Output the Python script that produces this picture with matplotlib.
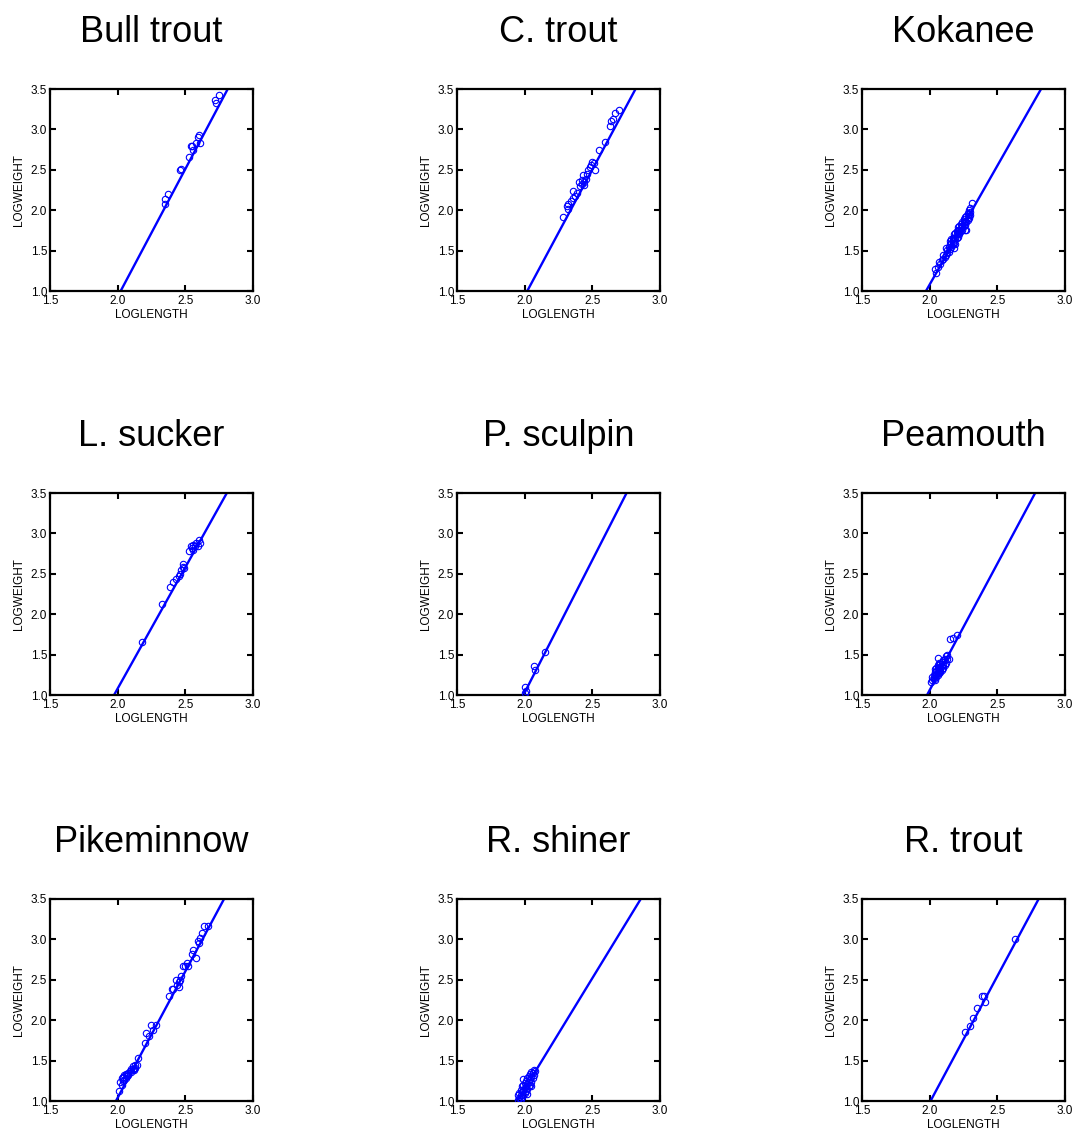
import numpy as np
import matplotlib
matplotlib.use('Agg')
import matplotlib.pyplot as plt

plt.rcParams['font.family'] = ['Liberation Sans', 'DejaVu Sans']

# species (panel titles), in reading order
species = ['Bull trout', 'C. trout', 'Kokanee',
           'L. sucker', 'P. sculpin', 'Peamouth',
           'Pikeminnow', 'R. shiner', 'R. trout']

# fitted line LOGWEIGHT = a + b * LOGLENGTH
intercepts = [-5.39, -5.31, -4.80, -4.92, -5.53, -5.20, -5.22, -4.33, -5.28]
slopes = [3.16, 3.125, 2.94, 3.00, 3.28, 3.13, 3.13, 2.74, 3.13]

# observed points (loglength, logweight)
bull_x = [2.35, 2.35, 2.37, 2.46, 2.47, 2.53, 2.54, 2.55, 2.56, 2.58, 2.59, 2.60, 2.61, 2.72, 2.73, 2.75]
bull_y = [2.08, 2.14, 2.20, 2.50, 2.51, 2.66, 2.79, 2.80, 2.74, 2.83, 2.91, 2.93, 2.83, 3.36, 3.33, 3.43]

ctrout_x = [2.28, 2.31, 2.32, 2.32, 2.34, 2.36, 2.36, 2.37, 2.39, 2.40, 2.41, 2.42, 2.43, 2.44, 2.45,
            2.46, 2.47, 2.48, 2.49, 2.50, 2.51, 2.52, 2.55, 2.59, 2.63, 2.64, 2.65, 2.67, 2.70, 2.44, 2.42]
ctrout_y = [1.91, 2.05, 2.02, 2.08, 2.11, 2.24, 2.15, 2.17, 2.21, 2.35, 2.30, 2.37, 2.44, 2.35, 2.39,
            2.45, 2.50, 2.53, 2.56, 2.60, 2.58, 2.50, 2.74, 2.84, 3.04, 3.10, 3.13, 3.20, 3.24, 2.31, 2.33]

kok_x = [2.04, 2.05, 2.06, 2.07, 2.08, 2.09, 2.10, 2.10, 2.11, 2.12, 2.12, 2.13, 2.13, 2.14, 2.14,
         2.15, 2.15, 2.15, 2.16, 2.16, 2.16, 2.17, 2.17, 2.17, 2.18, 2.18, 2.18, 2.19, 2.19, 2.19,
         2.20, 2.20, 2.20, 2.21, 2.21, 2.21, 2.21, 2.22, 2.22, 2.22, 2.23, 2.23, 2.23, 2.24, 2.24,
         2.24, 2.25, 2.25, 2.25, 2.26, 2.26, 2.26, 2.27, 2.27, 2.27, 2.28, 2.28, 2.28, 2.29, 2.29,
         2.29, 2.30, 2.30, 2.30, 2.31, 2.18, 2.22, 2.26]
kok_y = [1.27, 1.22, 1.30, 1.36, 1.33, 1.38, 1.40, 1.44, 1.42, 1.45, 1.53, 1.47, 1.51, 1.48, 1.54,
         1.52, 1.58, 1.62, 1.55, 1.60, 1.64, 1.58, 1.62, 1.66, 1.60, 1.65, 1.70, 1.58, 1.66, 1.72,
         1.65, 1.70, 1.74, 1.67, 1.72, 1.76, 1.79, 1.70, 1.75, 1.80, 1.74, 1.78, 1.83, 1.76, 1.81,
         1.86, 1.80, 1.84, 1.89, 1.82, 1.87, 1.91, 1.75, 1.85, 1.93, 1.88, 1.92, 1.96, 1.90, 1.95,
         2.00, 1.94, 1.98, 2.03, 2.09, 1.53, 1.73, 1.75]

lsuck_x = [2.18, 2.33, 2.39, 2.41, 2.43, 2.45, 2.46, 2.47, 2.48, 2.48, 2.49, 2.53, 2.54, 2.55,
           2.56, 2.57, 2.58, 2.59, 2.60, 2.61, 2.56]
lsuck_y = [1.66, 2.13, 2.34, 2.40, 2.44, 2.47, 2.50, 2.55, 2.62, 2.59, 2.57, 2.78, 2.84, 2.82,
           2.86, 2.84, 2.88, 2.85, 2.92, 2.88, 2.80]

psculp_x = [2.00, 2.01, 2.00, 2.07, 2.08, 2.15]
psculp_y = [1.10, 1.05, 1.03, 1.36, 1.31, 1.53]

pea_x = [2.01, 2.02, 2.02, 2.03, 2.03, 2.04, 2.04, 2.04, 2.05, 2.05, 2.05, 2.05, 2.06, 2.06, 2.06,
         2.06, 2.07, 2.07, 2.07, 2.07, 2.08, 2.08, 2.08, 2.09, 2.09, 2.09, 2.10, 2.10, 2.10, 2.11,
         2.11, 2.12, 2.12, 2.13, 2.13, 2.14, 2.06, 2.15, 2.17, 2.20, 2.08, 2.04]
pea_y = [1.16, 1.18, 1.22, 1.20, 1.25, 1.19, 1.24, 1.28, 1.22, 1.26, 1.30, 1.34, 1.25, 1.29, 1.33,
         1.37, 1.27, 1.31, 1.35, 1.39, 1.28, 1.33, 1.38, 1.31, 1.36, 1.41, 1.34, 1.38, 1.43, 1.37,
         1.44, 1.40, 1.48, 1.45, 1.50, 1.44, 1.46, 1.69, 1.70, 1.74, 1.30, 1.32]

pike_x = [2.01, 2.02, 2.03, 2.04, 2.04, 2.05, 2.05, 2.06, 2.06, 2.07, 2.08, 2.08, 2.09, 2.10, 2.10,
          2.11, 2.11, 2.12, 2.13, 2.13, 2.14, 2.15, 2.20, 2.21, 2.23, 2.25, 2.26, 2.28, 2.38, 2.40,
          2.41, 2.43, 2.44, 2.45, 2.46, 2.47, 2.48, 2.50, 2.51, 2.52, 2.55, 2.56, 2.58, 2.59, 2.61,
          2.62, 2.64, 2.67, 2.03, 2.07, 2.12, 2.45, 2.60]
pike_y = [1.12, 1.24, 1.20, 1.30, 1.25, 1.26, 1.32, 1.33, 1.29, 1.31, 1.35, 1.32, 1.37, 1.39, 1.36,
          1.43, 1.40, 1.38, 1.41, 1.44, 1.44, 1.53, 1.72, 1.84, 1.80, 1.94, 1.88, 1.94, 2.30, 2.39,
          2.38, 2.50, 2.44, 2.47, 2.50, 2.55, 2.67, 2.67, 2.71, 2.67, 2.82, 2.87, 2.77, 2.98, 3.02,
          3.08, 3.17, 3.17, 1.28, 1.34, 1.40, 2.41, 2.95]

shiner_x = [1.95, 1.95, 1.96, 1.96, 1.97, 1.97, 1.97, 1.98, 1.98, 1.98, 1.99, 1.99, 1.99, 2.00, 2.00,
            2.00, 2.01, 2.01, 2.01, 2.02, 2.02, 2.02, 2.03, 2.03, 2.03, 2.04, 2.04, 2.04, 2.05, 2.05,
            2.05, 2.06, 2.06, 2.07, 2.07, 2.08, 2.02, 2.05, 1.99]
shiner_y = [1.01, 1.08, 1.04, 1.10, 1.02, 1.07, 1.14, 1.05, 1.11, 1.19, 1.08, 1.13, 1.20, 1.10, 1.16,
            1.22, 1.12, 1.18, 1.25, 1.15, 1.21, 1.28, 1.18, 1.24, 1.31, 1.20, 1.27, 1.34, 1.24, 1.30,
            1.36, 1.28, 1.35, 1.32, 1.38, 1.37, 1.09, 1.18, 1.27]

rtrout_x = [2.26, 2.30, 2.32, 2.35, 2.39, 2.40, 2.41, 2.63]
rtrout_y = [1.86, 1.93, 2.03, 2.15, 2.30, 2.30, 2.23, 3.00]

xs = [bull_x, ctrout_x, kok_x, lsuck_x, psculp_x, pea_x, pike_x, shiner_x, rtrout_x]
ys = [bull_y, ctrout_y, kok_y, lsuck_y, psculp_y, pea_y, pike_y, shiner_y, rtrout_y]

W, H = 1075, 1135
fig = plt.figure(figsize=(W / 100, H / 100), dpi=100)

col_left = [50, 457, 862]
row_top = [89, 493, 899]
aw, ah = 203, 202

for i, name in enumerate(species):
    r, c = divmod(i, 3)
    ax = fig.add_axes([col_left[c] / W, 1 - (row_top[r] + ah) / H, aw / W, ah / H])

    xx = np.linspace(1.5, 3.0, 200)
    ax.plot(xx, intercepts[i] + slopes[i] * xx, color='#0000ff', lw=1.7, zorder=2)
    ax.plot(xs[i], ys[i], 'o', mfc='none', mec='#0000ff', ms=4.6, mew=0.8, zorder=3)

    ax.set_xlim(1.5, 3.0)
    ax.set_ylim(1.0, 3.5)
    ax.set_xticks([1.5, 2.0, 2.5, 3.0])
    ax.set_yticks([1.0, 1.5, 2.0, 2.5, 3.0, 3.5])
    ax.set_xticklabels(['1.5', '2.0', '2.5', '3.0'])
    ax.set_yticklabels(['1.0', '1.5', '2.0', '2.5', '3.0', '3.5'])
    ax.tick_params(direction='in', top=True, right=True, length=4, width=1.5,
                   labelsize=8.5)
    ax.tick_params(axis='x', pad=3)
    ax.tick_params(axis='y', pad=2)
    for s in ax.spines.values():
        s.set_linewidth(1.6)
    ax.set_xlabel('LOGLENGTH', fontsize=8.5, labelpad=1)
    ax.set_ylabel('LOGWEIGHT', fontsize=8.5, labelpad=4)
    ax.set_title(name, fontsize=26, pad=34)

fig.savefig('out.png', dpi=100)
